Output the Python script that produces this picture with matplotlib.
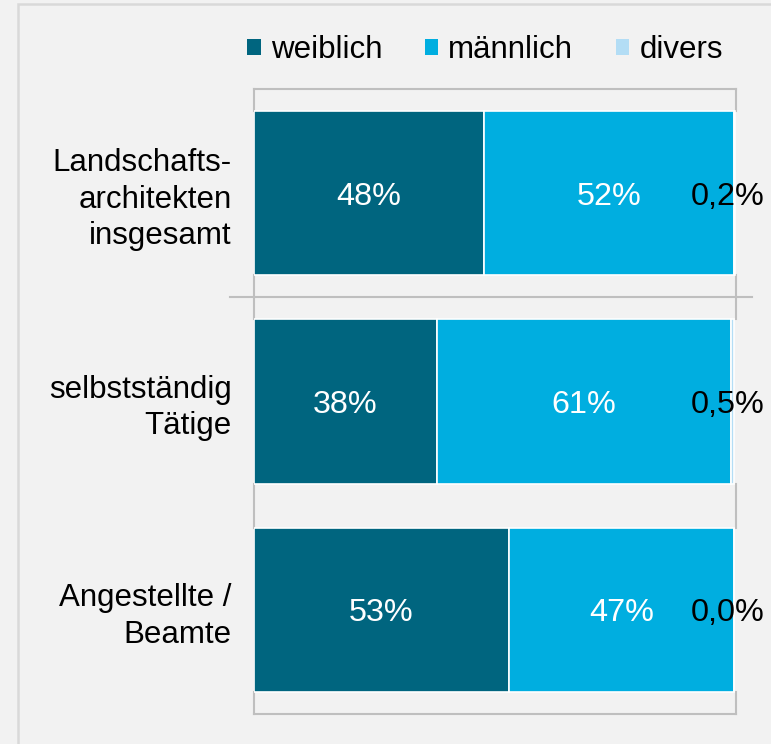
import matplotlib
matplotlib.use("Agg")
import matplotlib.pyplot as plt
from matplotlib.patches import Patch, Rectangle
from matplotlib.lines import Line2D
import matplotlib.transforms as mtransforms
import numpy as np

plt.rcParams['font.family'] = ['Liberation Sans', 'DejaVu Sans']

categories = ["Landschafts-\narchitekten\ninsgesamt", "selbstständig\nTätige", "Angestellte /\nBeamte"]
weiblich = [48.0, 38.1, 53.2]
maennlich = [52.0, 61.4, 46.8]
divers = [0.2, 0.5, 0.0]
label_w = ["48%", "38%", "53%"]
label_m = ["52%", "61%", "47%"]
label_d = ["0,2%", "0,5%", "0,0%"]
series_names = ["weiblich", "männlich", "divers"]
colors = ["#00657f", "#00aee0", "#b3ddf5"]

BG = "#f2f2f2"
GRID = "#bfbfbf"
FS = 23.3
FS_LAB = 22.5

fig = plt.figure(figsize=(7.71, 7.44), dpi=100, facecolor=BG)
# outer frame
fig.patches.append(Rectangle((18/771, -0.1), 1.2, 1.1 - 4/744, transform=fig.transFigure,
                             fill=False, edgecolor="#d9d9d9", linewidth=1.8, zorder=0))

ax = fig.add_axes([254/771, 1-714/744, (736-254)/771, (714-89)/744])
ax.set_facecolor(BG)

n = len(categories)
y = np.arange(n)
h = 0.79
w = np.array(weiblich, float)
m = np.array(maennlich, float)
d = np.array(divers, float)

ax.barh(y, w, height=h, color=colors[0], edgecolor="white", linewidth=1.2, zorder=3)
ax.barh(y, m, left=w, height=h, color=colors[1], edgecolor="white", linewidth=1.2, zorder=3)
ax.barh(y, d, left=w+m, height=h, color=colors[2], edgecolor="white", linewidth=1.2, zorder=3)

blend = mtransforms.blended_transform_factory(ax.transAxes, ax.transData)
for i in range(n):
    ax.text(w[i]/2, y[i], label_w[i], ha="center", va="center_baseline", color="white", fontsize=FS, zorder=5)
    ax.text(w[i] + m[i]/2, y[i], label_m[i], ha="center", va="center_baseline", color="white", fontsize=FS, zorder=5)
    ax.text(0.983, y[i], label_d[i], transform=blend, ha="center", va="center_baseline",
            color="black", fontsize=FS, zorder=5, clip_on=False)

ax.set_xlim(0, 100.5)
ax.set_ylim(n-0.5, -0.5)
ax.set_xticks([])
ax.set_yticks(y)
ax.set_yticklabels(categories, fontsize=FS_LAB, linespacing=1.28)
ax.tick_params(axis="y", length=0, pad=16)
for side in ["left", "right"]:
    ax.spines[side].set_visible(False)
for side in ["top", "bottom"]:
    ax.spines[side].set_color(GRID)
    ax.spines[side].set_linewidth(1.5)

# vertical border segments only in the gaps between bars
bounds = [-0.5] + [v for i in range(n) for v in (i - h/2, i + h/2)] + [n - 0.5]
for k in range(0, len(bounds), 2):
    for xa in (0.0, 1.0):
        ax.add_line(Line2D([xa, xa], [bounds[k], bounds[k+1]], transform=blend,
                           color=GRID, linewidth=1.5, clip_on=False, zorder=2))

# separator line between first and second group
ax.add_line(Line2D([-0.05, 1.033], [0.5, 0.5], transform=blend,
                   color=GRID, linewidth=1.5, clip_on=False, zorder=2))

handles = [Patch(facecolor=c, edgecolor="none") for c in colors]
fig.legend(handles, series_names, loc="center", bbox_to_anchor=(485/771, 1-50/744), ncol=3,
           frameon=False, fontsize=FS_LAB, handlelength=0.44, handleheight=0.44,
           handletextpad=0.32, columnspacing=1.35, borderpad=0, borderaxespad=0)

fig.savefig("out.png", dpi=100, facecolor=BG)
